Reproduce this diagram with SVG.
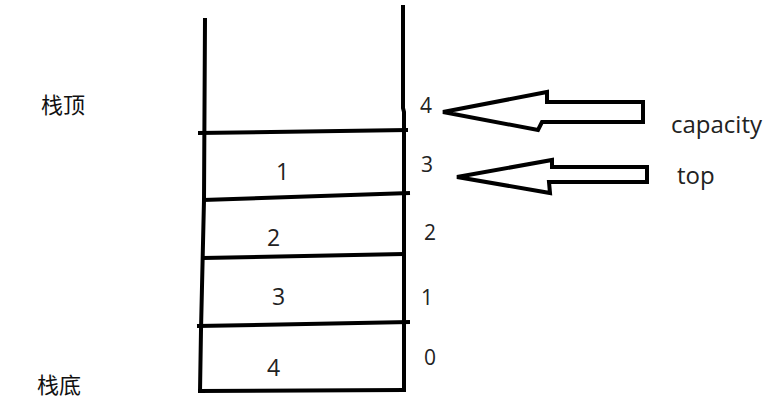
<svg xmlns="http://www.w3.org/2000/svg" width="766" height="414" viewBox="0 0 766 414">
<style>
.ln{fill:none;stroke:#000;stroke-width:4;stroke-linecap:butt;stroke-linejoin:round}
.ar{fill:#fff;stroke:#000;stroke-width:4;stroke-linejoin:miter}
.t{font-family:"Open Sans","Noto Sans CJK SC",sans-serif;fill:#222}
.d{font-size:23px}
.i{font-size:21px}
.l{font-size:24px}
.c{font-family:"Noto Sans CJK SC",sans-serif;font-size:22px;fill:#111}
</style>
<rect width="766" height="414" fill="#fff"/>
<g id="stack">
<polyline class="ln" points="205,18 204,200 201,330 200,392"/>
<polyline class="ln" points="403,5 403,108 404,112 404,392"/>
<line class="ln" x1="198" y1="133" x2="408" y2="130"/>
<line class="ln" x1="203" y1="200" x2="410" y2="193"/>
<line class="ln" x1="203" y1="258" x2="404" y2="254"/>
<line class="ln" x1="197" y1="326" x2="410" y2="322"/>
<line class="ln" x1="198" y1="391" x2="405" y2="390"/>
</g>
<g id="cells">
<text class="t d" x="276" y="180">1</text>
<text class="t d" x="267" y="246">2</text>
<text class="t d" x="272" y="305">3</text>
<text class="t d" x="267" y="376">4</text>
</g>
<g id="indices">
<text class="t i" x="420" y="113">4</text>
<text class="t i" x="421" y="172">3</text>
<text class="t i" x="424" y="240">2</text>
<text class="t i" x="421" y="305">1</text>
<text class="t i" x="424" y="365">0</text>
</g>
<g id="labels">
<text class="c" x="41" y="113">栈顶</text>
<text class="c" x="37" y="393">栈底</text>
</g>
<g id="connectors">
<polygon id="arrow-capacity" class="ar" points="443,112 547,92 547,102 643,102 643,122 542,122 538,130"/>
<polygon id="arrow-top" class="ar" points="457,177 552,160 552,167 647,167 647,182 549,182 550,193"/>
</g>
<g id="pointer-labels">
<text class="t l" x="671" y="133">capacity</text>
<text class="t l" x="677" y="184">top</text>
</g>
</svg>
